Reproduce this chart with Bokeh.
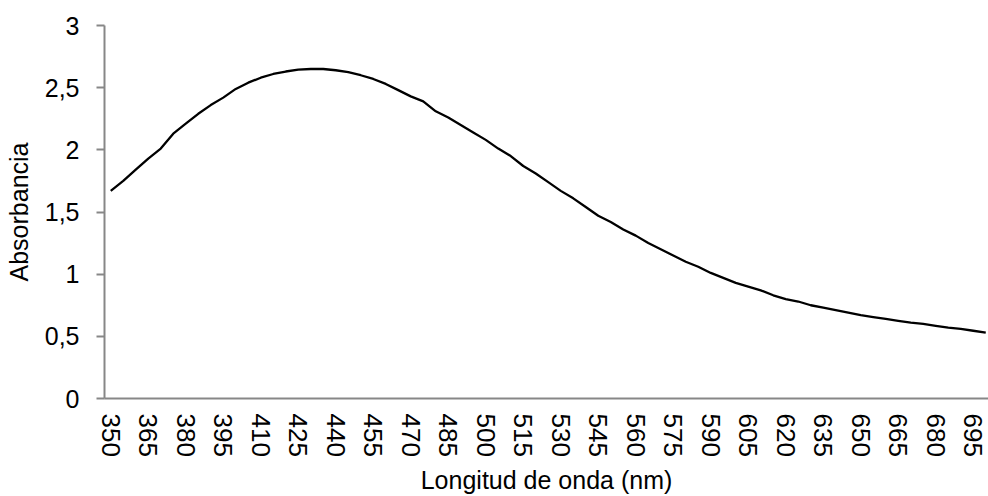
from bokeh.plotting import figure
from bokeh.models import FixedTicker, Range1d
from bokeh.embed import file_html
from bokeh.resources import INLINE

# Data: wavelength (nm) every 5 nm and absorbance
wavelength = list(range(350, 705, 5))
absorbance = [
    1.67, 1.75, 1.84, 1.93, 2.01, 2.13, 2.21, 2.29, 2.36, 2.42,   # 350-395
    2.49, 2.54, 2.58, 2.61, 2.63, 2.645, 2.65, 2.65, 2.64, 2.625,  # 400-445
    2.60, 2.57, 2.53, 2.48, 2.43, 2.39, 2.31, 2.26, 2.20, 2.14,    # 450-495
    2.08, 2.01, 1.95, 1.87, 1.81, 1.74, 1.67, 1.61, 1.54, 1.47,    # 500-545
    1.42, 1.36, 1.31, 1.25, 1.20, 1.15, 1.10, 1.06, 1.01, 0.97,    # 550-595
    0.93, 0.90, 0.87, 0.83, 0.80, 0.78, 0.75, 0.73, 0.71, 0.69,    # 600-645
    0.67, 0.655, 0.64, 0.625, 0.61, 0.60, 0.585, 0.57, 0.56, 0.545,  # 650-695
    0.53,                                                          # 700
]
x_ticks = list(range(350, 700, 15))
y_ticks = [0, 0.5, 1, 1.5, 2, 2.5, 3]
y_tick_labels = ["0", "0,5", "1", "1,5", "2", "2,5", "3"]

FONT = "Liberation Sans"
AXIS_COLOR = "#878787"

p = figure(
    width=988, height=496,
    output_backend="svg", toolbar_location=None,
    x_range=Range1d(347.5, 701.1), y_range=Range1d(0, 3),
    min_border_left=104, min_border_right=0,
    min_border_top=25, min_border_bottom=98,
)
p.outline_line_color = None
p.xgrid.visible = False
p.ygrid.visible = False
p.background_fill_color = "white"
p.border_fill_color = "white"

p.line(wavelength, absorbance, line_color="black", line_width=2.3)

# X axis
xa = p.xaxis[0]
xa.ticker = FixedTicker(ticks=x_ticks)
xa.major_label_orientation = "vertical"
xa.major_tick_line_color = None
xa.minor_tick_line_color = None
xa.major_tick_out = 0
xa.major_tick_in = 0
xa.major_label_standoff = 15
xa.axis_line_color = AXIS_COLOR
xa.axis_line_width = 2
xa.major_label_text_font = FONT
xa.major_label_text_font_size = "26px"
xa.major_label_text_color = "black"
xa.axis_label = "Longitud de onda (nm)"
xa.axis_label_text_font = FONT
xa.axis_label_text_font_size = "25px"
xa.axis_label_text_font_style = "normal"
xa.axis_label_text_color = "black"
xa.axis_label_standoff = 6

# Y axis
ya = p.yaxis[0]
ya.ticker = FixedTicker(ticks=y_ticks)
ya.major_label_overrides = {t: lab for t, lab in zip(y_ticks, y_tick_labels)}
ya.minor_tick_line_color = None
ya.major_tick_out = 8
ya.major_tick_in = 0
ya.major_tick_line_color = AXIS_COLOR
ya.major_tick_line_width = 2
ya.major_label_standoff = 17
ya.axis_line_color = AXIS_COLOR
ya.axis_line_width = 2
ya.major_label_text_font = FONT
ya.major_label_text_font_size = "25px"
ya.major_label_text_color = "black"
ya.axis_label = "Absorbancia"
ya.axis_label_text_font = FONT
ya.axis_label_text_font_size = "25px"
ya.axis_label_text_font_style = "normal"
ya.axis_label_text_color = "black"
ya.axis_label_standoff = 9

open("out.html", "w").write(file_html(p, INLINE))
